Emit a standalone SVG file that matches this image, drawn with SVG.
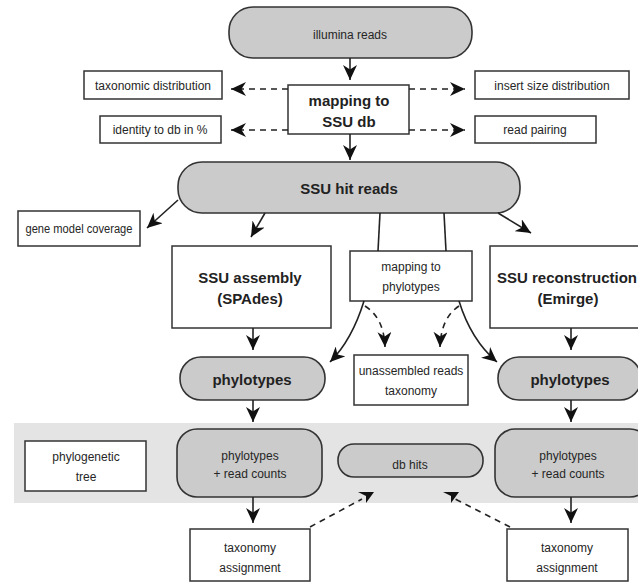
<svg xmlns="http://www.w3.org/2000/svg" width="638" height="583" viewBox="0 0 638 583">
<style>
.box{fill:#fff;stroke:#333;stroke-width:1.5}
.node{fill:#cbcbcb;stroke:#333;stroke-width:1.6}
.t{font-family:"Liberation Sans",Arial,sans-serif;font-size:12px;fill:#262626;text-anchor:middle}
.b{font-family:"Liberation Sans",Arial,sans-serif;font-size:15px;font-weight:bold;fill:#222;text-anchor:middle}
.ln{fill:none;stroke:#222;stroke-width:1.6}
.dl{fill:none;stroke:#222;stroke-width:1.6;stroke-dasharray:6 5}
</style>
<defs>
<marker id="ah" markerUnits="userSpaceOnUse" markerWidth="16" markerHeight="14" refX="15" refY="7" orient="auto">
<path d="M0,0 L15,7 L0,14 L4.5,7 z" fill="#111"/>
</marker>
</defs>
<rect x="14" y="423" width="630" height="80" fill="#e4e4e4"/>
<g id="illumina"><rect class="node" x="229" y="7" width="243" height="51" rx="24"/><text class="t" x="350" y="39">illumina reads</text></g>
<g id="mapping"><rect class="box" x="288" y="85" width="121" height="49"/><text class="b" x="349" y="106">mapping to</text><text class="b" x="349" y="127">SSU db</text></g>
<g id="taxdist"><rect class="box" x="84" y="71" width="138" height="28"/><text class="t" x="153" y="90">taxonomic  distribution</text></g>
<g id="identity"><rect class="box" x="100" y="116" width="121" height="27"/><text class="t" x="160" y="134">identity to db in %</text></g>
<g id="insert"><rect class="box" x="475" y="71" width="154" height="28"/><text class="t" x="552" y="90">insert size distribution</text></g>
<g id="pairing"><rect class="box" x="475" y="116" width="121" height="27"/><text class="t" x="535" y="134">read pairing</text></g>
<g id="ssuhit"><rect class="node" x="178" y="162" width="342" height="51" rx="24"/><text class="b" x="349" y="194">SSU hit reads</text></g>
<g id="genemodel"><rect class="box" x="18" y="211" width="122" height="35"/><text class="t" x="79" y="233" textLength="107" lengthAdjust="spacingAndGlyphs">gene model coverage</text></g>
<g id="assembly"><rect class="box" x="172" y="246" width="159" height="82"/><text class="b" x="250" y="283">SSU assembly</text><text class="b" x="250" y="304">(SPAdes)</text></g>
<g id="mapphylo"><rect class="box" x="350" y="251" width="122" height="50"/><text class="t" x="411" y="271">mapping to</text><text class="t" x="411" y="291">phylotypes</text></g>
<g id="reconstruction"><rect class="box" x="490" y="246" width="160" height="82"/><text class="b" x="567" y="283">SSU reconstruction</text><text class="b" x="568" y="304">(Emirge)</text></g>
<g id="phyloL"><rect class="node" x="180" y="357" width="145" height="43" rx="21"/><text class="b" x="252" y="385">phylotypes</text></g>
<g id="unassembled"><rect class="box" x="354" y="355" width="114" height="50"/><text class="t" x="411" y="375">unassembled reads</text><text class="t" x="411" y="395">taxonomy</text></g>
<g id="phyloR"><rect class="node" x="498" y="357" width="143" height="43" rx="21"/><text class="b" x="570" y="385">phylotypes</text></g>
<g id="tree"><rect class="box" x="25" y="441" width="121" height="50"/><text class="t" x="86" y="461">phylogenetic</text><text class="t" x="86" y="481">tree</text></g>
<g id="countsL"><rect class="node" x="177" y="429" width="145" height="68" rx="20"/><text class="t" x="250" y="460">phylotypes</text><text class="t" x="250" y="478">+ read counts</text></g>
<g id="dbhits"><rect class="node" x="338" y="444" width="145" height="33" rx="16"/><text class="t" x="410" y="469">db hits</text></g>
<g id="countsR"><rect class="node" x="495" y="429" width="155" height="68" rx="20"/><text class="t" x="568" y="460">phylotypes</text><text class="t" x="568" y="478">+ read counts</text></g>
<g id="taxL"><rect class="box" x="190" y="529" width="120" height="52"/><text class="t" x="250" y="552">taxonomy</text><text class="t" x="250" y="572">assignment</text></g>
<g id="taxR"><rect class="box" x="507" y="529" width="121" height="52"/><text class="t" x="567" y="552">taxonomy</text><text class="t" x="567" y="572">assignment</text></g>
<g id="connectors">
<line class="ln" x1="350" y1="58" x2="350" y2="80" marker-end="url(#ah)"/>
<line class="ln" x1="350" y1="134" x2="350" y2="160" marker-end="url(#ah)"/>
<line class="dl" x1="288" y1="89" x2="231" y2="89" marker-end="url(#ah)"/>
<line class="dl" x1="288" y1="130" x2="231" y2="130" marker-end="url(#ah)"/>
<line class="dl" x1="409" y1="89" x2="465" y2="89" marker-end="url(#ah)"/>
<line class="dl" x1="409" y1="130" x2="465" y2="130" marker-end="url(#ah)"/>
<line class="ln" x1="178" y1="200" x2="147" y2="228" marker-end="url(#ah)"/>
<line class="ln" x1="265" y1="213" x2="251" y2="237" marker-end="url(#ah)"/>
<line class="ln" x1="498" y1="213" x2="531" y2="233" marker-end="url(#ah)"/>
<line class="ln" x1="380" y1="213" x2="378" y2="251"/>
<line class="ln" x1="444" y1="213" x2="446" y2="251"/>
<path class="ln" d="M364,301 Q352,340 330,362" marker-end="url(#ah)"/>
<path class="ln" d="M459,301 Q471,340 497,362" marker-end="url(#ah)"/>
<path class="dl" d="M365,306 Q384,318 385,347" marker-end="url(#ah)"/>
<path class="dl" d="M459,306 Q441,318 440,347" marker-end="url(#ah)"/>
<line class="ln" x1="253" y1="328" x2="253" y2="350" marker-end="url(#ah)"/>
<line class="ln" x1="253" y1="400" x2="253" y2="422" marker-end="url(#ah)"/>
<line class="ln" x1="253" y1="497" x2="253" y2="523" marker-end="url(#ah)"/>
<line class="ln" x1="571" y1="328" x2="571" y2="350" marker-end="url(#ah)"/>
<line class="ln" x1="571" y1="400" x2="571" y2="422" marker-end="url(#ah)"/>
<line class="ln" x1="571" y1="497" x2="571" y2="523" marker-end="url(#ah)"/>
<line class="dl" x1="310" y1="527" x2="362" y2="499"/>
<path d="M358,492 L374,492 L366,503 L366,496 z" fill="#111"/>
<line class="dl" x1="510" y1="527" x2="455" y2="499"/>
<path d="M443,492 L459,492 L451,503 L451,496 z" fill="#111"/>
</g>
</svg>
